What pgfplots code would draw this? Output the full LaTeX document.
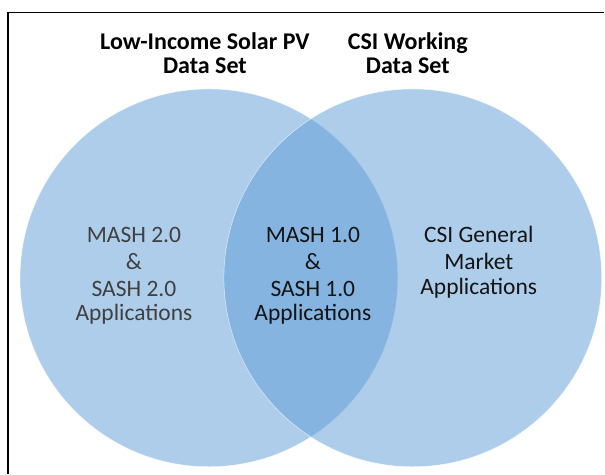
\documentclass[border=0pt]{standalone}
\usepackage{pgfplots}
\pgfplotsset{compat=1.18}
\usepackage{fontspec}
\setmainfont{Carlito}
\definecolor{vblue}{HTML}{5B9BD5}
\definecolor{graytxt}{HTML}{404040}
\definecolor{darktxt}{HTML}{141414}
\begin{document}
\begin{tikzpicture}
\begin{axis}[
  width=605bp, height=474bp, scale only axis,
  xmin=0, xmax=605, ymin=0, ymax=474,
  y dir=reverse, hide axis, clip=false, set layers,
]
% invisible corners to fix the bounding box to the full picture
\addplot[draw=none, no marks] coordinates {(0,0) (605,474)};
% frame (left and top edges of the screenshot)
\addplot[black, line width=1.6bp, sharp plot, no marks] coordinates {(8,474) (8,12.7) (604.5,12.7)};
% the two sets (centre x, centre y)
\addplot[only marks, mark=*, mark size=189bp,
  mark options={fill=vblue, fill opacity=0.5, draw=white, draw opacity=0.6, line width=0.6bp}]
  coordinates {(209,278) (413,278)};
\begin{pgfonlayer}{axis foreground}
% titles
\begin{scope}[every node/.style={anchor=base, inner sep=0pt, opacity=1, fill opacity=1, text opacity=1, text=black, font=\fontsize{24bp}{24bp}\selectfont\bfseries}]
\node at (axis cs:205,50) {Low-Income Solar PV};
\node at (axis cs:205,74) {Data Set};
\node at (axis cs:408,50) {CSI Working};
\node at (axis cs:408,74) {Data Set};
\end{scope}
% region labels
\begin{scope}[every node/.style={anchor=base, inner sep=0pt, opacity=1, fill opacity=1, text opacity=1, font=\fontsize{23.5bp}{26bp}\selectfont}]
\node[text=graytxt] at (axis cs:134,243) {MASH 2.0};
\node[text=graytxt] at (axis cs:134,270) {\&};
\node[text=graytxt] at (axis cs:134,297) {SASH 2.0};
\node[text=graytxt] at (axis cs:134,321) {Applications};
\node[text=darktxt] at (axis cs:313,243) {MASH 1.0};
\node[text=darktxt] at (axis cs:313,270) {\&};
\node[text=darktxt] at (axis cs:313,297) {SASH 1.0};
\node[text=darktxt] at (axis cs:313,321) {Applications};
\node[text=darktxt] at (axis cs:479,243) {CSI General};
\node[text=darktxt] at (axis cs:479,270) {Market};
\node[text=darktxt] at (axis cs:479,295) {Applications};
\end{scope}
\end{pgfonlayer}
\end{axis}
\end{tikzpicture}
\end{document}
